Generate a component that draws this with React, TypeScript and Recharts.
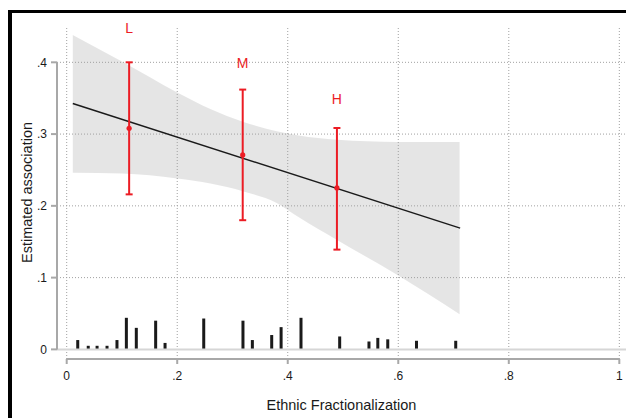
import React from "react";
import {
  ComposedChart,
  Area,
  Line,
  Bar,
  Scatter,
  ErrorBar,
  XAxis,
  YAxis,
  ReferenceLine,
} from "recharts";

const FONT = '"Liberation Sans", Arial, Helvetica, sans-serif';
const RED = "#ec1c24";
const AXIS_GRAY = "#a8a8a8";
const GRID_GRAY = "#a0a0a0";
const TEXT = "#1a1a1a";

// spikes along the bottom (distribution of the moderator)
const spikeX = [0.02, 0.039, 0.055, 0.073, 0.091, 0.108, 0.126, 0.161, 0.178, 0.248, 0.319, 0.336, 0.371, 0.388, 0.424, 0.494, 0.547, 0.563, 0.581, 0.633, 0.704];
const spikeH = [0.013, 0.005, 0.005, 0.005, 0.013, 0.044, 0.03, 0.04, 0.009, 0.043, 0.04, 0.013, 0.02, 0.031, 0.044, 0.018, 0.011, 0.016, 0.014, 0.012, 0.012];

// 95% band around the linear fit
const bandX = [0.011, 0.1, 0.2, 0.26, 0.32, 0.38, 0.42, 0.49, 0.6, 0.711];
const bandLo = [0.246, 0.245, 0.238, 0.231, 0.22, 0.204, 0.184, 0.152, 0.103, 0.049];
const bandHi = [0.438, 0.401, 0.358, 0.335, 0.317, 0.304, 0.298, 0.292, 0.289, 0.289];

const fitX = [0.011, 0.712];
const fitY = [0.3425, 0.169];

// binned estimates (low / medium / high)
const groups = ["L", "M", "H"];
const groupX = [0.113, 0.3185, 0.489];
const groupEst = [0.308, 0.271, 0.225];
const groupLo = [0.216, 0.18, 0.139];
const groupHi = [0.4, 0.362, 0.3085];
const groupLabelY = [0.448, 0.399, 0.349];

const xTicks = [0, 0.2, 0.4, 0.6, 0.8, 1];
const xTickLabels = ["0", ".2", ".4", ".6", ".8", "1"];
const yTicks = [0, 0.1, 0.2, 0.3, 0.4];
const yTickLabels = ["0", ".1", ".2", ".3", ".4"];

const X_MIN = -0.01755;
const X_MAX = 1.0121;
const Y_MIN = -0.0134;
const Y_MAX = 0.4506;

export default function App() {
  const spikes = spikeX.map((x, i) => ({ x, n: spikeH[i] }));
  const band = bandX.map((x, i) => ({ x, range: [bandLo[i], bandHi[i]] }));
  const fit = fitX.map((x, i) => ({ x, y: fitY[i] }));
  const points = groupX.map((x, i) => ({
    x,
    y: groupEst[i],
    err: [groupEst[i] - groupLo[i], groupHi[i] - groupEst[i]],
  }));
  const labels = groupX.map((x, i) => ({ x, y: groupLabelY[i], t: groups[i] }));

  return (
    <div style={{ position: "absolute", left: 8, top: 8, width: 618, height: 410, background: "#fff" }}>
      <ComposedChart width={618} height={410} data={spikes} margin={{ top: 18, right: 0, bottom: 0, left: 0 }}>
        <XAxis
          dataKey="x"
          type="number"
          domain={[X_MIN, X_MAX]}
          ticks={xTicks}
          tickFormatter={(v: number) => xTickLabels[xTicks.indexOf(v)] ?? String(v)}
          axisLine={false}
          tickLine={{ stroke: AXIS_GRAY, strokeWidth: 2 }}
          tickSize={5}
          tickMargin={7}
          height={59}
          tick={{ fill: TEXT, fontSize: 12, fontFamily: FONT }}
          label={{ value: "Ethnic Fractionalization", position: "insideBottom", offset: 8, style: { fill: TEXT, fontSize: 14.5, fontFamily: FONT } }}
        />
        <YAxis
          type="number"
          domain={[Y_MIN, Y_MAX]}
          ticks={yTicks}
          tickFormatter={(v: number) => yTickLabels[yTicks.indexOf(v)] ?? String(v)}
          axisLine={false}
          tickLine={{ stroke: AXIS_GRAY, strokeWidth: 2 }}
          tickSize={6}
          tickMargin={4}
          width={49}
          tick={{ fill: TEXT, fontSize: 12, fontFamily: FONT }}
          label={{ value: "Estimated association", angle: -90, position: "insideLeft", offset: 19, style: { textAnchor: "middle", fill: TEXT, fontSize: 14.5, fontFamily: FONT } }}
        />
        {/* dotted grid */}
        {yTicks.slice(1).map((v) => (
          <ReferenceLine key={"gy" + v} y={v} stroke={GRID_GRAY} strokeDasharray="1 2" />
        ))}
        {xTicks.map((v) => (
          <ReferenceLine key={"gx" + v} x={v} stroke={GRID_GRAY} strokeDasharray="1 2" />
        ))}
        <Area
          data={band}
          dataKey="range"
          type="monotone"
          fill="#000"
          fillOpacity={0.1}
          stroke="none"
          isAnimationActive={false}
        />
        <ReferenceLine y={0} stroke="#d6d6d6" strokeWidth={2} />
        <Bar
          dataKey="n"
          fill={TEXT}
          barSize={3}
          isAnimationActive={false}
          shape={(p: any) => (
            <rect x={p.x + p.width / 2 - 1.5} y={p.y} width={3} height={Math.max(p.height, 0)} fill={TEXT} />
          )}
        />
        <Line data={fit} dataKey="y" stroke={TEXT} strokeWidth={1.5} dot={false} isAnimationActive={false} />
        <Scatter
          data={points}
          dataKey="y"
          fill={RED}
          isAnimationActive={false}
          shape={(p: any) => <circle cx={p.cx} cy={p.cy} r={2.6} fill={RED} />}
        >
          <ErrorBar dataKey="err" direction="y" width={3.5} stroke={RED} strokeWidth={2} />
        </Scatter>
        <Scatter
          data={labels}
          dataKey="y"
          isAnimationActive={false}
          shape={(p: any) => (
            <text x={p.cx} y={p.cy} textAnchor="middle" dominantBaseline="central" fill={RED} fontSize={14} fontFamily={FONT}>
              {p.payload.t}
            </text>
          )}
        />
        <ReferenceLine segment={[{ x: 0, y: Y_MIN }, { x: 1, y: Y_MIN }]} stroke={AXIS_GRAY} strokeWidth={2} ifOverflow="visible" />
        <ReferenceLine segment={[{ x: X_MIN, y: 0 }, { x: X_MIN, y: 0.4 }]} stroke={AXIS_GRAY} strokeWidth={2} ifOverflow="visible" />
      </ComposedChart>
      <div style={{ position: "absolute", left: 0, top: 2, width: 4, height: 408, background: "#000" }} />
      <div style={{ position: "absolute", left: 0, top: 2, width: 618, height: 3, background: "#000" }} />
    </div>
  );
}
